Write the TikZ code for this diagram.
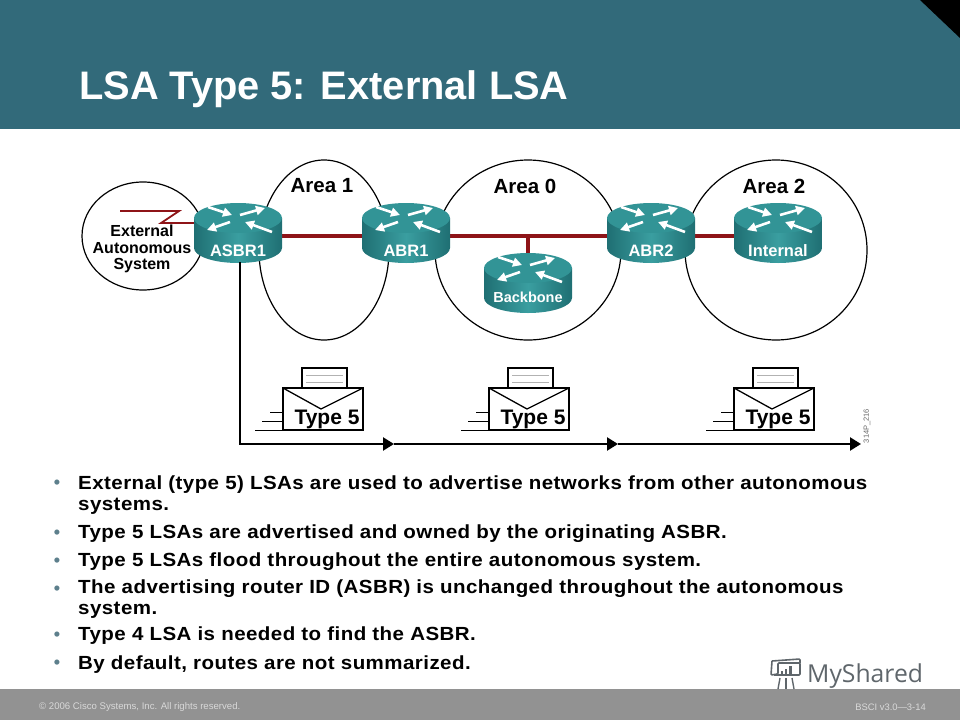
\documentclass[tikz,border=0pt]{standalone}
\usepackage{fontspec}
\setmainfont{Liberation Sans}
\newfontfamily\bodyfont[FakeStretch=1.08,LetterSpace=2.3]{Liberation Sans}
\newfontfamily\logofont{Open Sans}
\usepackage[HTML]{xcolor}
\usetikzlibrary{positioning, arrows.meta}
\definecolor{headbar}{HTML}{326A7A}
\definecolor{footbar}{HTML}{929292}
\definecolor{routertop}{HTML}{329496}
\definecolor{routerlight}{HTML}{3A9EA0}
\definecolor{routerdark}{HTML}{1F6F73}
\definecolor{linkred}{HTML}{8E1418}
\definecolor{logogray}{HTML}{5F666B}
\definecolor{dotgray}{HTML}{5D7F8C}
\tikzset{
  arealabel/.style={font=\fontsize{20.5}{22}\selectfont\bfseries},
  bullet/.style={anchor=north west,inner sep=0pt,align=left,font=\bodyfont\fontsize{19}{20.3}\selectfont\bfseries},
  whitearrow/.style={white,line width=2.6pt,-{Triangle[length=9pt,width=9pt]}},
  pics/router/.style n args={3}{code={
    \shade[left color=routerdark,right color=routerdark,middle color=routerlight]
      (-44,0) -- (-44,30) arc[start angle=180,end angle=360,x radius=44pt,y radius=15pt] -- (44,0) -- cycle;
    \fill[routertop] (0,0) ellipse [x radius=44pt,y radius=15pt];
    \draw[whitearrow] (-30,-11) -- (-6,-3);
    \draw[whitearrow] (2,-3) -- (27,-10);
    \draw[whitearrow] (-8,4) -- (-31,12);
    \draw[whitearrow] (34,14) -- (7,4);
    \node[white,font=\fontsize{#2}{18}\selectfont\bfseries] (-label) at (0,#3) {#1};
  }},
  pics/envelope/.style={code={
    \draw[line width=1.3pt,fill=white] (19,-20) rectangle (64,0);
    \draw[gray!60] (23,-13) -- (60,-13);
    \draw[gray!60] (23,-6) -- (60,-6);
    \draw[line width=1.3pt] (0,0) rectangle (80,42);
    \draw[line width=1.3pt] (0,0) -- (38,21) -- (80,0);
    \draw[line width=1pt] (-13,24) -- (0,24);
    \draw[line width=1pt] (-21,33) -- (0,33);
    \draw[line width=1pt] (-28,42) -- (0,42);
    \node[font=\fontsize{21}{22}\selectfont\bfseries] (-label) at (44,31) {#1};
  }}
}
\begin{document}
\begin{tikzpicture}[x=1pt,y=-1pt]
\useasboundingbox (0,0) rectangle (960,720);
% Title bar
\fill[headbar] (0,0) rectangle (960,129);
\fill[black] (920,0) -- (960,38) -- (960,0) -- cycle;
\node[white,anchor=base west,inner sep=0pt,font=\fontsize{39.8}{42}\selectfont\bfseries] (title) at (79,99) {LSA Type 5: External LSA};

% Areas
\draw[line width=1.2pt] (143,236) ellipse [x radius=61pt,y radius=54pt];
\draw[line width=1.2pt] (324,250) ellipse [x radius=65pt,y radius=90pt];
\draw[line width=1.2pt] (528,250) ellipse [x radius=93pt,y radius=90pt];
\draw[line width=1.2pt] (776,250) ellipse [x radius=91pt,y radius=90pt];
\node[arealabel] (area1) at (322,186) {Area 1};
\node[arealabel] (area0) at (525,186) {Area 0};
\node[arealabel] (area2) at (774,186) {Area 2};
\node[align=center,inner sep=0pt,font=\fontsize{16}{16.5}\selectfont\bfseries] (external) at (142,249) {External\\Autonomous\\System};

% Routers
\coordinate (ASBR1) at (238,218);
\coordinate (ABR1) at (406,218);
\coordinate (ABR2) at (651,218);
\coordinate (Internal) at (778,218);
\coordinate (Backbone) at (528,268);
\coordinate (Tee) at (528,236);
\coordinate (Zig0) at (120,211);
\coordinate (Zig1) at (179,211);
\coordinate (Zig2) at (161,223);

\draw[linkred,line width=4.5pt] (ASBR1 |- Tee) -- (Internal |- Tee);
\draw[linkred,line width=4pt] (Tee) -- (Backbone);
\draw[linkred,line width=1.8pt] (Zig0) -- (Zig1) -- (Zig2) -- (ASBR1 |- Zig2);

\foreach \name/\size/\dy in {ASBR1/16.5/33,ABR1/16.5/33,ABR2/16.5/33,Internal/16.5/33,Backbone/14.5/29}{
  \pic (r\name) at (\name) {router={\name}{\size}{\dy}};
}

% Flooding path
\coordinate (Corner) at (240,444);
\coordinate (Stop1) at (394,444);
\coordinate (Stop2) at (618,444);
\coordinate (Stop3) at (861,444);
\coordinate (Start) at (240,262);
\tikzset{flood/.style={line width=2.3pt,-{Triangle[length=11pt,width=13pt]}}}
\draw[flood] (Start) -- (Corner) -- (Stop1);
\draw[flood] (Stop1) -- (Stop2);
\draw[flood] (Stop2) -- (Stop3);

\foreach \i/\x in {1/283,2/489,3/734}{
  \pic (env\i) at (\x,388) {envelope=Type 5};
}
\node[rotate=90,gray!80!black,font=\fontsize{7.5}{8}\selectfont] (figid) at (867,426) {314P\_216};

% Bullets
\foreach \n/\y in {1/484,2/534,3/562,4/590,5/636,6/664}{
  \node[inner sep=0pt,dotgray,font=\fontsize{18}{19}\selectfont\bfseries] (dot\n) at (57,\y) {\textbullet};
}
\node[bullet] (b1) at (78,476) {External (type 5) LSAs are used to advertise networks from other autonomous\\systems.};
\node[bullet] (b2) at (78,525) {Type 5 LSAs are advertised and owned by the originating ASBR.};
\node[bullet] (b3) at (78,553) {Type 5 LSAs flood throughout the entire autonomous system.};
\node[bullet] (b4) at (78,580) {The advertising router ID (ASBR) is unchanged throughout the autonomous\\system.};
\node[bullet] (b5) at (78,627) {Type 4 LSA is needed to find the ASBR.};
\node[bullet] (b6) at (78,656) {By default, routes are not summarized.};

% Footer
\fill[footbar] (0,689) rectangle (960,720);
\node[anchor=west,inner sep=0pt,gray!30,font=\fontsize{9.6}{10}\selectfont] (copyright) at (39,707) {© 2006 Cisco Systems, Inc. All rights reserved.};
\node[anchor=east,inner sep=0pt,gray!30,font=\fontsize{9.4}{10}\selectfont] (version) at (926,707) {BSCI v3.0—3-14};

% Logo
\draw[logogray,line width=1.6pt,rounded corners=1pt] (772,661) -- (771,675) -- (778,674) -- (778,663) -- (800,663) -- (800,675) -- (774,675);
\draw[logogray,line width=1.6pt,rounded corners=1pt] (772,661) -- (800,659) -- (800,663);
\fill[logogray] (781,671) rectangle (783,674);
\fill[logogray] (785,669) rectangle (787,674);
\fill[logogray] (789,666) rectangle (792,674);
\draw[logogray,line width=1.4pt] (780,678) -- (778,689);
\draw[logogray,line width=1.4pt] (786,678) -- (786,689);
\draw[logogray,line width=1.4pt] (792,678) -- (794,689);
\node[anchor=base west,inner sep=0pt,logogray,font=\logofont\fontsize{24.7}{27}\selectfont] (logotext) at (807,682) {MyShared};
\end{tikzpicture}
\end{document}
